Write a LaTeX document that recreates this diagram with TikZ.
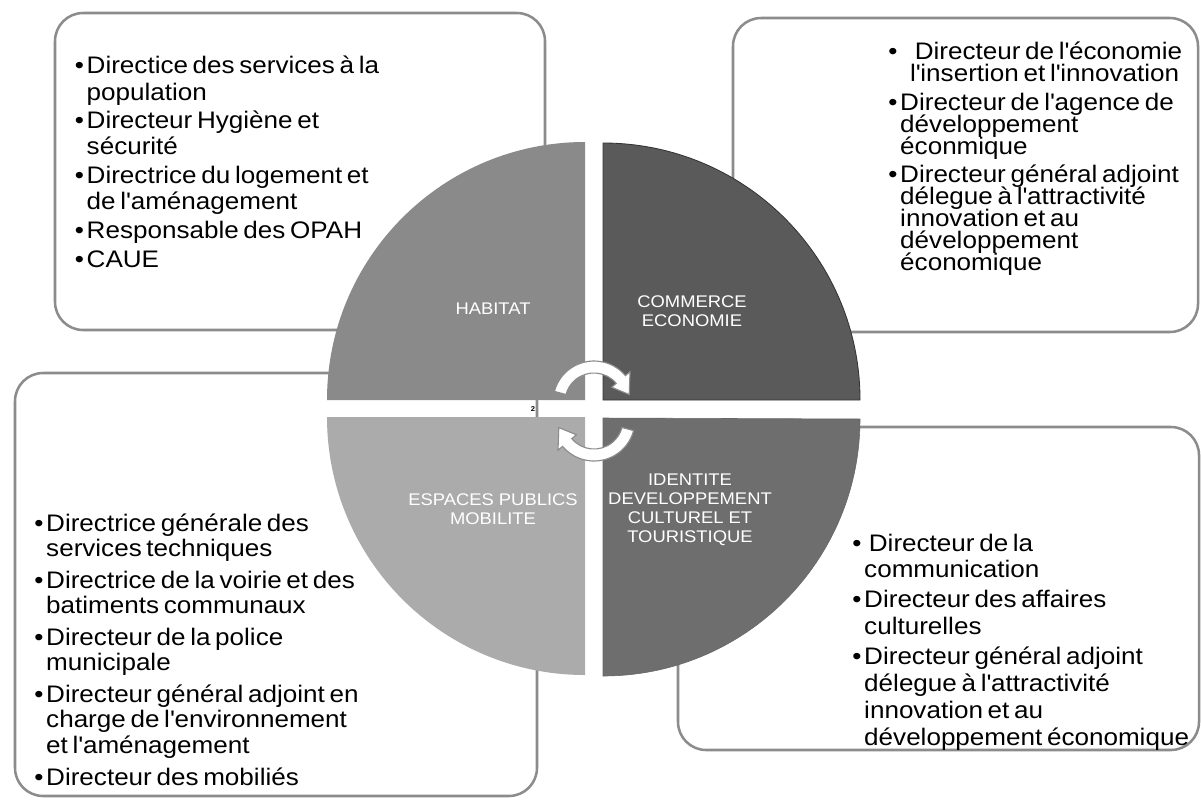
\documentclass[tikz,border=0pt]{standalone}
\usepackage{fontspec}
\setmainfont{Liberation Sans}[FakeStretch=1.09]
\definecolor{habfill}{HTML}{8A8A8A}
\definecolor{comfill}{HTML}{5A5A5A}
\definecolor{espfill}{HTML}{ABABAB}
\definecolor{idefill}{HTML}{6E6E6E}
\definecolor{boxline}{HTML}{8C8C8C}
\newlength{\bulw}
\setlength{\bulw}{8.5pt}
\newcommand{\apos}{\textquotesingle}
\newcommand{\entry}[2][0pt]{\par\hangindent=\dimexpr\bulw+#1\relax\hangafter=1
  \noindent\hbox to \dimexpr\bulw+#1\relax{\textbullet\hfil}\vrule height 1em depth 0pt width 0pt #2}
\newcommand{\listsetup}[2]{\fontsize{17pt}{#1}\selectfont\lineskiplimit=-100pt\relax\setlength{\parskip}{#2}}
\tikzset{
  panel/.style={draw=boxline, line width=1.8pt, fill=white, rounded corners=20pt},
  items/.style={anchor=north west, inner sep=0pt, text width=#1, align=left},
  qlabel/.style={text=white, inner sep=0pt, align=center, font=\fontsize{12pt}{13.5pt}\selectfont},
  cyc/.style={fill=white, draw=boxline, line width=0.8pt}
}
\begin{document}
\begin{tikzpicture}[x=0.025cm, y=-0.025cm]
\useasboundingbox (0,0) rectangle (1201,803);
% boxes behind the circle
\draw[panel] (55,13) rectangle (545,330);
\draw[panel] (733,18) rectangle (1198,332);
\draw[panel] (15,373) rectangle (537,796);
\draw[panel] (678,427) rectangle (1199,750);
% quarter circles
\fill[habfill] (585,400) -- (585,142) arc[start angle=-90, end angle=-180, radius=258] -- cycle;
\filldraw[fill=comfill, draw=black!80, line width=0.6pt] (603,400) -- (603,143) arc[start angle=-90, end angle=0, radius=257] -- cycle;
\fill[espfill] (585,417) -- (327,417) arc[start angle=180, end angle=90, radius=258] -- cycle;
\filldraw[fill=idefill, draw=black!60, line width=0.4pt] (603,418) -- (603,676) arc[start angle=90, end angle=0, radius=257] -- cycle;
% cycle arrows
\begin{scope}[shift={(594,402)}]
\draw[cyc] (-165:41) arc[start angle=-165, end angle=-40, radius=41] -- (-40:47) -- (-12:36)
  -- (-40:23) -- (-40:29) arc[start angle=-40, end angle=-165, radius=29] -- cycle;
\end{scope}
\begin{scope}[shift={(594,420)}]
\draw[cyc] (15:41) arc[start angle=15, end angle=140, radius=41] -- (140:47) -- (168:36)
  -- (140:23) -- (140:29) arc[start angle=140, end angle=15, radius=29] -- cycle;
\end{scope}
\node[font=\fontsize{5pt}{5pt}\selectfont\bfseries, inner sep=0pt] (pagenum) at (533,409) {2};
% quadrant labels
\node[qlabel] (habitat) at (493,309) {HABITAT};
\node[qlabel] (commerce) at (692,311) {COMMERCE\\ECONOMIE};
\node[qlabel] (espaces) at (493,509) {ESPACES PUBLICS\\MOBILITE};
\node[qlabel] (identite) at (690,510) {IDENTITE\\DEVELOPPEMENT\\CULTUREL ET\\TOURISTIQUE};
% lists
\node[items=9cm] (habitatlist) at (74.5,45) {\listsetup{18.6pt}{1.8pt}%
  \entry{Directice des services à la\newline population}
  \entry{Directeur Hygiène et\newline sécurité}
  \entry{Directrice du logement et\newline de l\apos aménagement}
  \entry{Responsable des OPAH}
  \entry{CAUE}\par};
\node[items=8cm] (commercelist) at (888,31) {\listsetup{15.6pt}{4.7pt}%
  \entry[7pt]{\ Directeur de l\apos économie\newline l\apos insertion et l\apos innovation}
  \entry{Directeur de l\apos agence de\newline développement\newline éconmique}
  \entry{Directeur général adjoint\newline délegue à l\apos attractivité\newline innovation et au\newline développement\newline économique}\par};
\node[items=12cm] (espaceslist) at (34,499.3) {\listsetup{18.2pt}{4.2pt}%
  \entry{Directrice générale des\newline services techniques}
  \entry{Directrice de la voirie et des\newline batiments communaux}
  \entry{Directeur de la police\newline municipale}
  \entry{Directeur général adjoint en\newline charge de l\apos environnement\newline et l\apos aménagement}
  \entry{Directeur des mobiliés}\par};
\node[items=9cm] (identitelist) at (852,521) {\listsetup{19.1pt}{2.1pt}%
  \entry{\ Directeur de la\newline communication}
  \entry{Directeur des affaires\newline culturelles}
  \entry{Directeur général adjoint\newline délegue à l\apos attractivité\newline innovation et au\newline développement économique}\par};
\end{tikzpicture}
\end{document}
